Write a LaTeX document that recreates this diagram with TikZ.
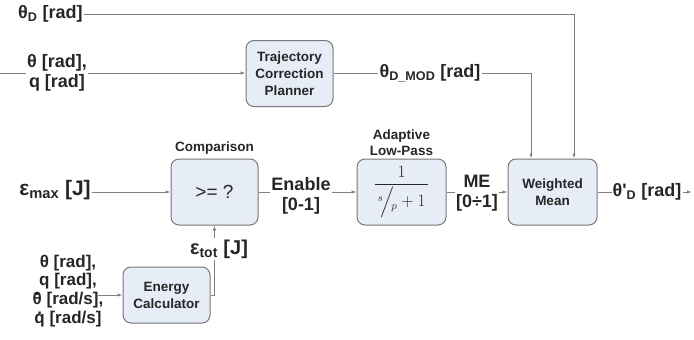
\documentclass[tikz,border=0pt]{standalone}
\usepackage{amsmath}
\usepackage{fontspec}
\setmainfont{Liberation Sans}
\usetikzlibrary{arrows.meta}

\definecolor{boxfill}{HTML}{E6EDF6}
\definecolor{boxline}{HTML}{787878}
\definecolor{wire}{HTML}{808080}
\definecolor{ink}{HTML}{262626}
% time derivative dot placed by hand
\newcommand\pdot[1]{\ooalign{#1\cr\hidewidth\raisebox{0.55em}{.}\hidewidth\cr}}

\begin{document}
\begin{tikzpicture}[x=1pt,y=-1pt,>={Latex[length=5pt,width=3.5pt]},
  block/.style={draw=boxline,fill=boxfill,line width=1pt,rounded corners=8pt,
    minimum width=87pt,minimum height=66pt,align=center,
    font=\fontsize{13.5}{17}\selectfont\bfseries,text=ink},
  sig/.style={font=\fontsize{18}{20}\selectfont\bfseries,text=ink,align=center,inner sep=1pt},
  blocktitle/.style={font=\fontsize{13.5}{16}\selectfont\bfseries,text=ink,align=center,inner sep=0pt},
  conn/.style={draw=wire,line width=0.9pt}]
\useasboundingbox (0,0) rectangle (694,340);
% blocks
\node[block] (planner) at (289.5,73.5) {Trajectory\\Correction\\Planner};
\node[block] (compare) at (214.5,192) {\fontsize{19}{20}\selectfont\mdseries >= ?};
\node[block,minimum width=89pt] (lowpass) at (401.5,192)
  {\fontsize{16}{19}\selectfont$\dfrac{1}{\,{}^{s}\!\Big/\!{}_{p}+1\,}$};
\node[block,minimum width=89pt] (wmean) at (552.5,192) {Weighted\\Mean};
\node[block,minimum height=56pt] (energy) at (166.5,295) {Energy\\Calculator};
% captions and signals
\node[blocktitle] (lpcap) at (401.5,143) {Adaptive\\Low-Pass};
\node[blocktitle] (cmpcap) at (214.5,148) {Comparison};
\node[sig,anchor=west] (thd) at (17,14) {θ\textsubscript{D} [rad]};
\node[sig] (thq) at (57,73) {θ [rad],\\q [rad]};
\node[sig] (thmod) at (430,73) {θ\textsubscript{D\_MOD} [rad]};
\node[sig,font=\fontsize{21}{21}\selectfont\bfseries] (emax) at (55,190) {ε\textsubscript{max} [J]};
\node[sig] (enable) at (301,196) {Enable\\{}[0-1]};
\node[sig] (me) at (477,193) {ME\\{}[0÷1]};
\node[sig] (thout) at (647,192) {θ\textquotesingle\textsubscript{D} [rad]};
\node[sig,font=\fontsize{20}{20}\selectfont\bfseries] (etot) at (219,249) {ε\textsubscript{tot} [J]};
\node[sig,font=\fontsize{17}{18.8}\selectfont\bfseries] (ein) at (68,291)
  {θ [rad],\\q [rad],\\\pdot{θ} [rad/s],\\\pdot{q} [rad/s]};
\coordinate (inq) at (0,73);
\coordinate (outend) at (692,192);
% wires
\draw[conn] (inq) -- (thq.west);
\draw[conn,->] (thq.east) -- (thq.east -| planner.west);
\draw[conn] (planner.east) -- (planner.east -| thmod.west);
\draw[conn,->] (thmod.east) -| ([xshift=-21.5pt]wmean.north);
\draw[conn,->] (thd.east) -| ([xshift=21.5pt]wmean.north);
\draw[conn,->] (compare.west -| emax.east) -- (compare.west);
\draw[conn] (compare.east) -- (compare.east -| enable.west);
\draw[conn,->] (compare.east -| enable.east) -- (lowpass.west);
\draw[conn] (lowpass.east) -- (lowpass.east -| me.west);
\draw[conn,->] (wmean.west -| me.east) -- (wmean.west);
\draw[conn] (wmean.east) -- (wmean.east -| thout.west);
\draw[conn,->] (thout.east) -- (outend);
\draw[conn,->] ([xshift=-6pt]ein.east |- energy.west) -- (energy.west);
\draw[conn] (energy.east) -| (compare.south |- etot.south);
\draw[conn,->] (compare.south |- etot.north) -- (compare.south);
\end{tikzpicture}
\end{document}
